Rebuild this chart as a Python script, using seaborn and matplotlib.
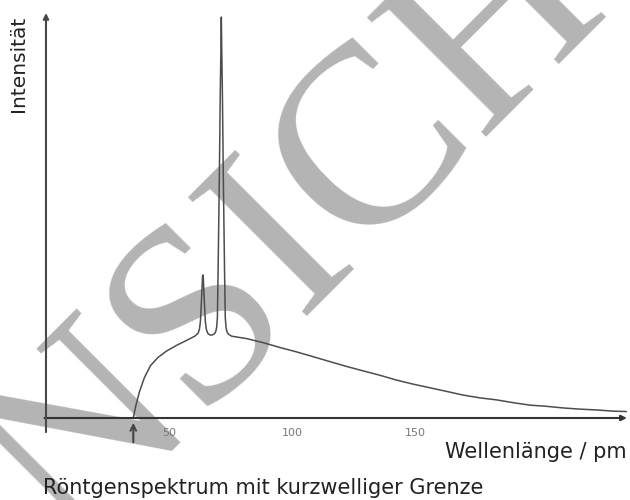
import numpy as np
import pandas as pd
import seaborn as sns
import matplotlib.pyplot as plt

# Röntgenspektrum (Molybdän-Anode), Werte
wellenlaenge = [35.5, 36.5, 38.0, 40.0, 42.5, 45.5, 49.0, 53.0, 57.0, 60.5,
                61.8, 62.4, 62.8, 63.1, 63.4, 63.65, 63.8, 63.95, 64.2, 64.5,
                64.8, 65.2, 65.8, 66.7, 67.6, 68.5, 69.0, 69.4, 69.7, 70.0,
                70.5, 70.85, 71.1, 71.3, 71.5, 71.75, 72.1, 72.6, 72.9, 73.2,
                73.6, 74.2, 75.5, 81.6, 88.3, 95.1, 101.9, 108.7, 115.4, 122.2,
                128.9, 135.8, 142.6, 149.3, 156.1, 162.9, 169.5, 176.4, 183.2, 190.0,
                196.7, 203.5, 210.2, 217.1, 223.9, 230.6, 236.0]
intensitaet = [0.0, 3.0, 6.5, 10.0, 13.0, 15.0, 16.6, 18.0, 19.2, 20.3,
               21.0, 22.0, 24.0, 27.5, 31.5, 35.0, 35.5, 35.0, 31.5, 27.5,
               24.0, 22.0, 21.0, 20.6, 20.6, 20.9, 21.4, 22.5, 25.0, 37.0,
               60.0, 80.0, 90.0, 99.5, 90.0, 80.0, 60.0, 37.0, 25.0, 22.5,
               21.4, 20.8, 20.3, 19.7, 18.7, 17.5, 16.4, 15.2, 14.0, 12.8,
               11.7, 10.6, 9.4, 8.4, 7.5, 6.6, 5.7, 5.0, 4.5, 3.8,
               3.2, 2.9, 2.5, 2.2, 2.0, 1.7, 1.6]

grenzwellenlaenge = 35.5
major_ticks = [50, 100, 150, 200]
major_labels = ["50", "100", "150", ""]
minor_ticks = list(range(10, 240, 10))

df = pd.DataFrame({"lambda": wellenlaenge, "I": intensitaet})

sns.set_style("white")
fig = plt.figure(figsize=(6.3, 5), dpi=100)
ax = fig.add_axes([0.073, 0.164, 0.922, 0.806])

# Wasserzeichen
ax.text(0.525, 0.42, "ANSICHT", transform=fig.transFigure, rotation=45,
        rotation_mode="anchor", ha="center", va="baseline", fontsize=184,
        family="Liberation Serif", color="#b4b4b4", zorder=0.5, clip_on=False)

sns.lineplot(data=df, x="lambda", y="I", ax=ax, color="#4d4d4d", lw=1.1,
             sort=False, estimator=None, zorder=3)

ax.set_xlim(0, 236.2)
ax.set_ylim(0, 100)
for s in ax.spines.values():
    s.set_visible(False)

# Achsen mit Pfeilspitzen
ax.annotate("", xy=(236.2, 0), xytext=(-0.6, 0),
            arrowprops=dict(arrowstyle="-|>", color="#333333", lw=1.5,
                            mutation_scale=8, shrinkA=0, shrinkB=0),
            annotation_clip=False, zorder=4)
ax.annotate("", xy=(0, 100.5), xytext=(0, -3.5),
            arrowprops=dict(arrowstyle="-|>", color="#484848", lw=1.5,
                            mutation_scale=8, shrinkA=0, shrinkB=0),
            annotation_clip=False, zorder=4)

# Pfeil auf die kurzwellige Grenze
ax.annotate("", xy=(grenzwellenlaenge, -1.2), xytext=(grenzwellenlaenge, -6),
            arrowprops=dict(arrowstyle="->", color="#444444", lw=1.5,
                            mutation_scale=10, shrinkA=0, shrinkB=0),
            annotation_clip=False, zorder=4)

ax.set_xticks(major_ticks, major_labels)
ax.set_xticks(minor_ticks, minor=True)
ax.set_yticks([])
ax.tick_params(axis="x", which="major", direction="out", length=5, width=1,
               color="#555555", labelsize=8, labelcolor="#777777", pad=2)
ax.tick_params(axis="x", which="minor", direction="out", length=3, width=1,
               color="#555555")
ax.set_xlabel("")
ax.set_ylabel("")

fig.text(0.029, 0.872, "Intensität", rotation=90, ha="center", va="center",
         fontsize=14.5, color="#222222")
fig.text(0.995, 0.096, "Wellenlänge / pm", ha="right", va="center",
         fontsize=15, color="#222222")
fig.text(0.068, 0.024, "Röntgenspektrum mit kurzwelliger Grenze", ha="left",
         va="center", fontsize=15, color="#222222")

fig.savefig("out.png", dpi=100)
